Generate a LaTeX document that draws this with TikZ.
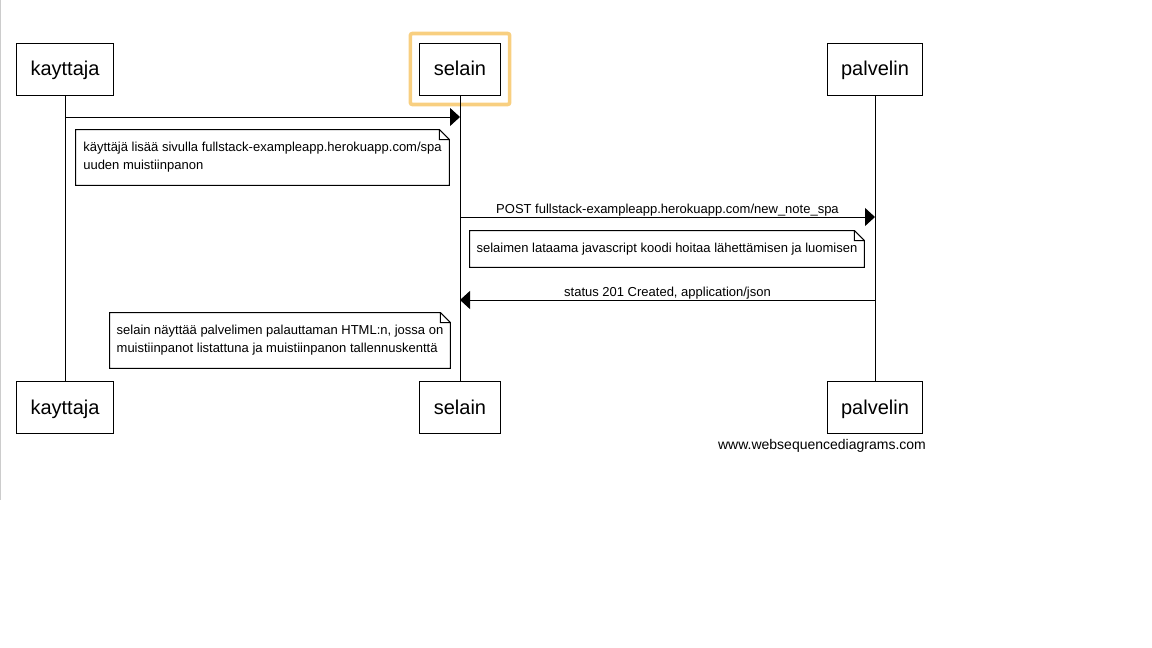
\documentclass[tikz,border=0pt]{standalone}
\usepackage{fontspec}
\setmainfont{Liberation Sans}
\usetikzlibrary{arrows.meta, positioning, fit}

\definecolor{hilite}{RGB}{248,207,128}

\tikzset{
	actor/.style={draw, fill=white, line width=0.5pt, inner xsep=7pt, minimum height=26pt, text depth=0.3pt, font=\fontsize{10}{12}\selectfont},
	note/.style={fill=white, inner sep=0pt, align=left, font=\fontsize{6.5}{9}\selectfont},
	msg/.style={line width=0.5pt, -{Triangle[length=5pt, width=9pt]}},
	lbl/.style={above, inner sep=0.4pt, font=\fontsize{6.5}{8}\selectfont},
}

\begin{document}
\begin{tikzpicture}[x=0.5pt, y=-0.5pt]
	\useasboundingbox (0,0) rectangle (1152,648);
	\draw[gray!40, line width=0.8pt] (0.5,0) -- (0.5,500);

	% participants, top and bottom
	\node[actor] (kay) at (65,69) {kayttaja};
	\node[actor] (sel) at (460,69) {selain};
	\node[actor] (pal) at (875,69) {palvelin};
	\node[actor] (kay2) at (65,407.5) {kayttaja};
	\node[actor] (sel2) at (460,407.5) {selain};
	\node[actor] (pal2) at (875,407.5) {palvelin};

	\node[draw=hilite, line width=1.8pt, rounded corners=1pt, inner xsep=4.5pt, inner ysep=4.5pt, fit=(sel)] (focus) {};

	% lifelines
	\draw[line width=0.5pt] (kay) -- (kay2);
	\draw[line width=0.5pt] (sel) -- (sel2);
	\draw[line width=0.5pt] (pal) -- (pal2);

	% messages
	\draw[msg] (kay |- 0,117) -- (sel |- 0,117);
	\draw[msg] (sel |- 0,217) -- node[lbl] {POST fullstack-exampleapp.herokuapp.com/new\_note\_spa} (pal |- 0,217);
	\draw[msg] (pal |- 0,300) -- node[lbl] {status 201 Created, application/json} (sel |- 0,300);

	% notes
	\node[note, minimum width=186.5pt, minimum height=27.5pt] (n1) at (262.5,157.5)
		{käyttäjä lisää sivulla fullstack-exampleapp.herokuapp.com/spa\\uuden muistiinpanon};
	\node[note, minimum width=197pt, minimum height=18pt] (n2) at (667,249)
		{selaimen lataama javascript koodi hoitaa lähettämisen ja luomisen};
	\node[note, minimum width=170pt, minimum height=27.5pt] (n3) at (280,340.5)
		{selain näyttää palvelimen palauttaman HTML:n, jossa on\\muistiinpanot listattuna ja muistiinpanon tallennuskenttä};
	\foreach \n in {n1,n2,n3}
		\draw[line width=0.5pt] (\n.north west) -- ([xshift=-5pt]\n.north east) -- ([yshift=-5pt]\n.north east)
			-- (\n.south east) -- (\n.south west) -- cycle
			([xshift=-5pt]\n.north east) |- ([yshift=-5pt]\n.north east);

	\node[font=\fontsize{7}{8}\selectfont] (wsd) at (822,446) {www.websequencediagrams.com};
\end{tikzpicture}
\end{document}
